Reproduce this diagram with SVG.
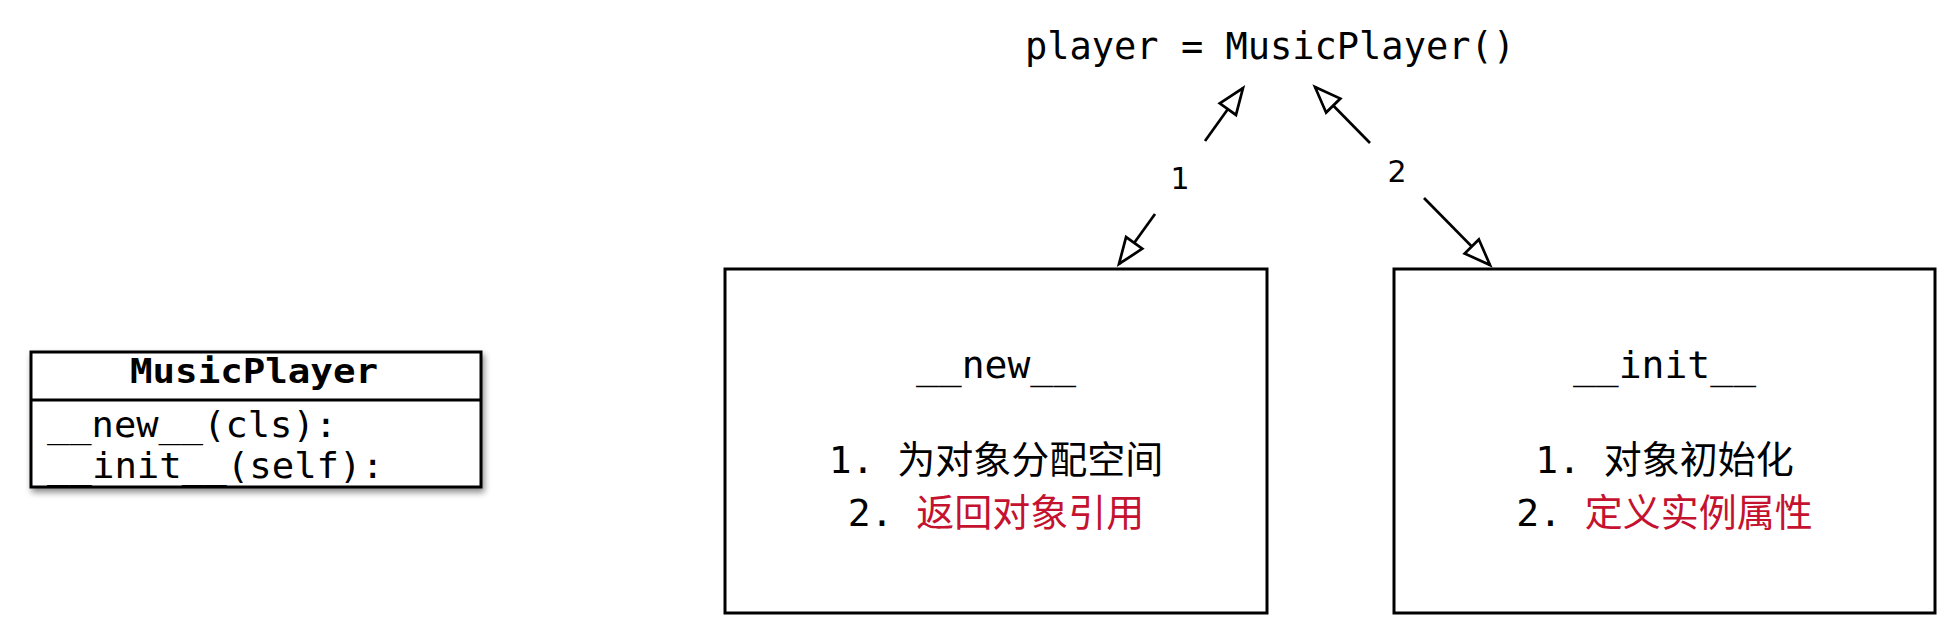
<svg xmlns="http://www.w3.org/2000/svg" width="1955" height="634" viewBox="0 0 1955 634">
  <style>
    .code { font-family: "DejaVu Sans Mono", "Noto Sans CJK SC", monospace; fill: #000; }
    .lbl { font-family: "DejaVu Sans", "Noto Sans", sans-serif; font-size: 30px; fill: #000; text-anchor: middle; }
    .box { fill: #fff; stroke: #000; stroke-width: 3; }
    .conn { stroke: #000; stroke-width: 2.7; fill: none; marker-end: url(#hollow); }
    .red { fill: #C4122F; }
    .mid { text-anchor: middle; }
  </style>
  <defs>
    <marker id="hollow" markerUnits="userSpaceOnUse" markerWidth="34" markerHeight="28" refX="28" refY="12" orient="auto" overflow="visible">
      <path d="M2,2 L28,12 L2,22 Z" fill="#fff" stroke="#000" stroke-width="2.7" stroke-linejoin="miter"/>
    </marker>
    <filter id="shadow" x="-10%" y="-20%" width="130%" height="150%">
      <feDropShadow dx="2" dy="4" stdDeviation="3" flood-color="#000" flood-opacity="0.45"/>
    </filter>
  </defs>

  <rect width="1955" height="634" fill="#fff"/>

  <g id="class-musicplayer">
    <rect x="31" y="352" width="450" height="135" class="box" filter="url(#shadow)"/>
    <line x1="31" y1="400" x2="481" y2="400" stroke="#000" stroke-width="3"/>
    <text x="130" y="383" class="code" font-size="34" font-weight="bold" textLength="248" lengthAdjust="spacingAndGlyphs">MusicPlayer</text>
    <text x="47" y="437" class="code" font-size="35" textLength="290" lengthAdjust="spacingAndGlyphs">__new__(cls):</text>
    <text x="47" y="478" class="code" font-size="35" textLength="337" lengthAdjust="spacingAndGlyphs">__init__(self):</text>
  </g>

  <g id="player-call">
    <text x="1270" y="59" class="code mid" font-size="37">player = MusicPlayer()</text>
  </g>

  <g id="node-new">
    <rect x="725" y="269" width="542" height="344" class="box"/>
    <text x="996" y="378" class="code mid" font-size="38">__new__</text>
    <text x="996" y="473" class="code mid" font-size="38">1. 为对象分配空间</text>
    <text x="996" y="526" class="code mid" font-size="38">2. <tspan class="red">返回对象引用</tspan></text>
  </g>

  <g id="node-init">
    <rect x="1394" y="269" width="541" height="344" class="box"/>
    <text x="1664.5" y="378" class="code mid" font-size="38">__init__</text>
    <text x="1664.5" y="473" class="code mid" font-size="38">1. 对象初始化</text>
    <text x="1664.5" y="526" class="code mid" font-size="38">2. <tspan class="red">定义实例属性</tspan></text>
  </g>

  <g id="connectors">
    <line x1="1205" y1="141" x2="1243" y2="88" class="conn"/>
    <line x1="1155" y1="214" x2="1119" y2="264" class="conn"/>
    <text x="1180" y="189" class="lbl">1</text>
    <line x1="1370" y1="143" x2="1315" y2="87" class="conn"/>
    <line x1="1424" y1="198" x2="1490" y2="265" class="conn"/>
    <text x="1397" y="182" class="lbl">2</text>
  </g>
</svg>
